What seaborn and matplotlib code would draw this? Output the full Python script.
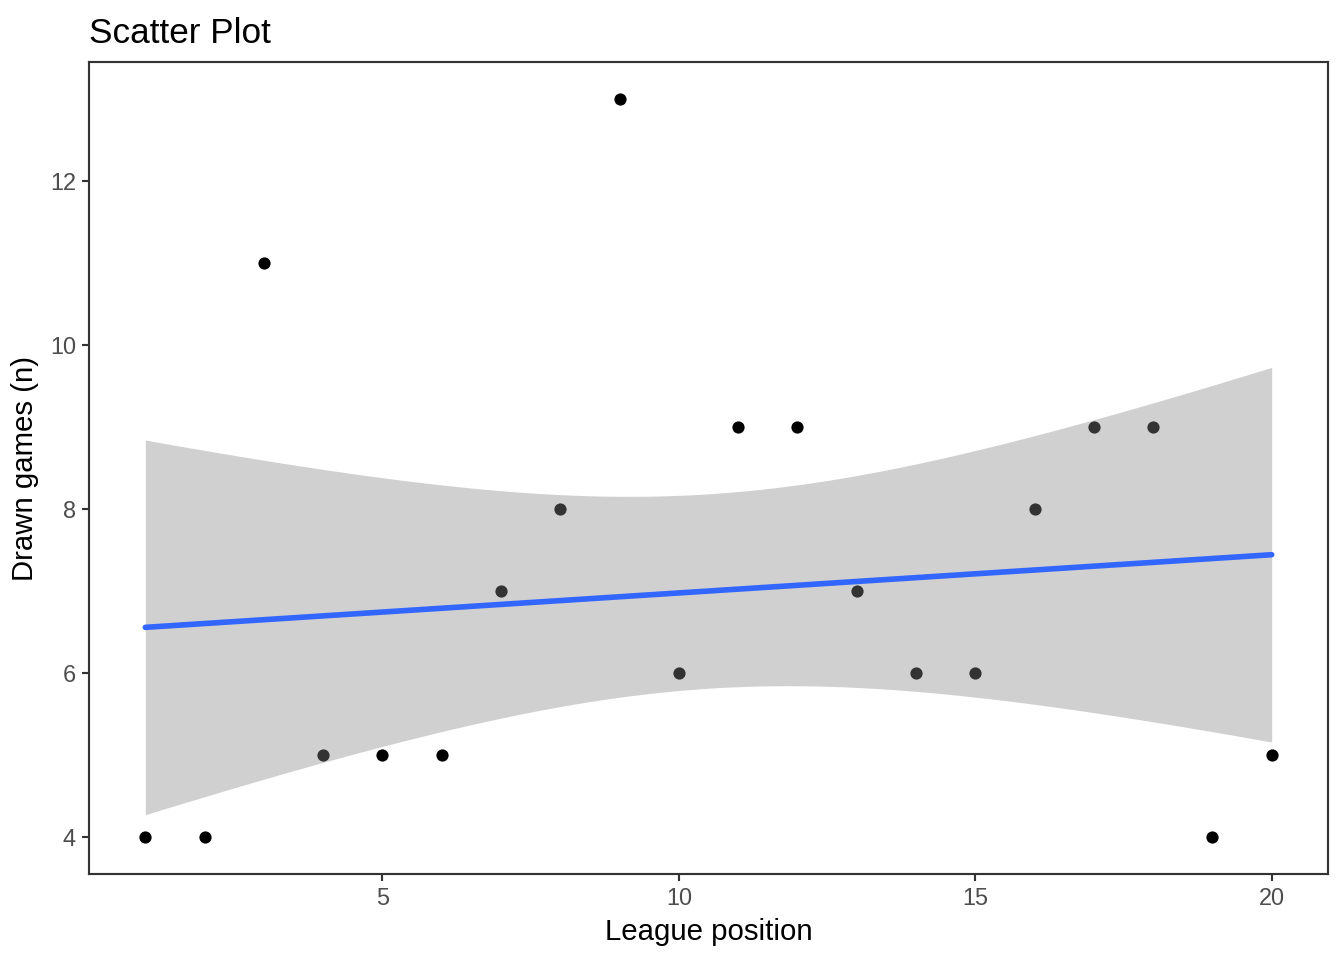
import numpy as np
import pandas as pd
import matplotlib
matplotlib.use("Agg")
import matplotlib.pyplot as plt
import seaborn as sns

# data
league_position = [1, 2, 3, 4, 5, 6, 7, 8, 9, 10, 11, 12, 13, 14, 15, 16, 17, 18, 19, 20]
drawn_games = [4, 4, 11, 5, 5, 5, 7, 8, 13, 6, 9, 9, 7, 6, 6, 8, 9, 9, 4, 5]
x_ticks = [5, 10, 15, 20]
y_ticks = [4, 6, 8, 10, 12]

df = pd.DataFrame({"League position": league_position, "Drawn games (n)": drawn_games})

sns.set_theme(style="white")
plt.rcParams["font.family"] = ["Liberation Sans", "DejaVu Sans"]

fig = plt.figure(figsize=(7, 5), dpi=192)
ax = fig.add_axes([89 / 1344, 86 / 960, 1239 / 1344, 812 / 960])

# points + fitted line
sns.regplot(
    data=df, x="League position", y="Drawn games (n)", ax=ax, ci=None,
    scatter_kws={"s": 21, "color": "black", "linewidths": 0, "alpha": 1, "zorder": 1},
    line_kws={"color": "#3366FF", "linewidth": 2.1, "zorder": 3},
)

# 95% confidence band (analytic, like lm smoothing)
x = np.array(league_position, dtype=float)
y = np.array(drawn_games, dtype=float)
n = len(x)
b1, b0 = np.polyfit(x, y, 1)
resid = y - (b0 + b1 * x)
s = np.sqrt(np.sum(resid ** 2) / (n - 2))
t_crit = 2.100922  # t(0.975, df=18)
xs = np.linspace(x.min(), x.max(), 80)
se = s * np.sqrt(1 / n + (xs - x.mean()) ** 2 / np.sum((x - x.mean()) ** 2))
fit = b0 + b1 * xs
ax.fill_between(xs, fit - t_crit * se, fit + t_crit * se, color="#858585",
                alpha=0.384, linewidth=0, zorder=2)

ax.set_xlim(0.05, 20.95)
ax.set_ylim(3.55, 13.45)
ax.set_xticks(x_ticks)
ax.set_yticks(y_ticks)
ax.tick_params(axis="both", which="both", length=2.75, width=0.8, color="#333333",
               labelsize=8.8, labelcolor="#4D4D4D", pad=2.2, bottom=True, left=True)
for sp in ax.spines.values():
    sp.set_color("#333333")
    sp.set_linewidth(0.8)
ax.set_xlabel("League position", fontsize=11, color="black", labelpad=3)
ax.set_ylabel("Drawn games (n)", fontsize=11, color="black", labelpad=4)
ax.set_title("Scatter Plot", loc="left", fontsize=13.2, color="black", pad=7)
ax.grid(False)

fig.savefig("out.png", dpi=192)
